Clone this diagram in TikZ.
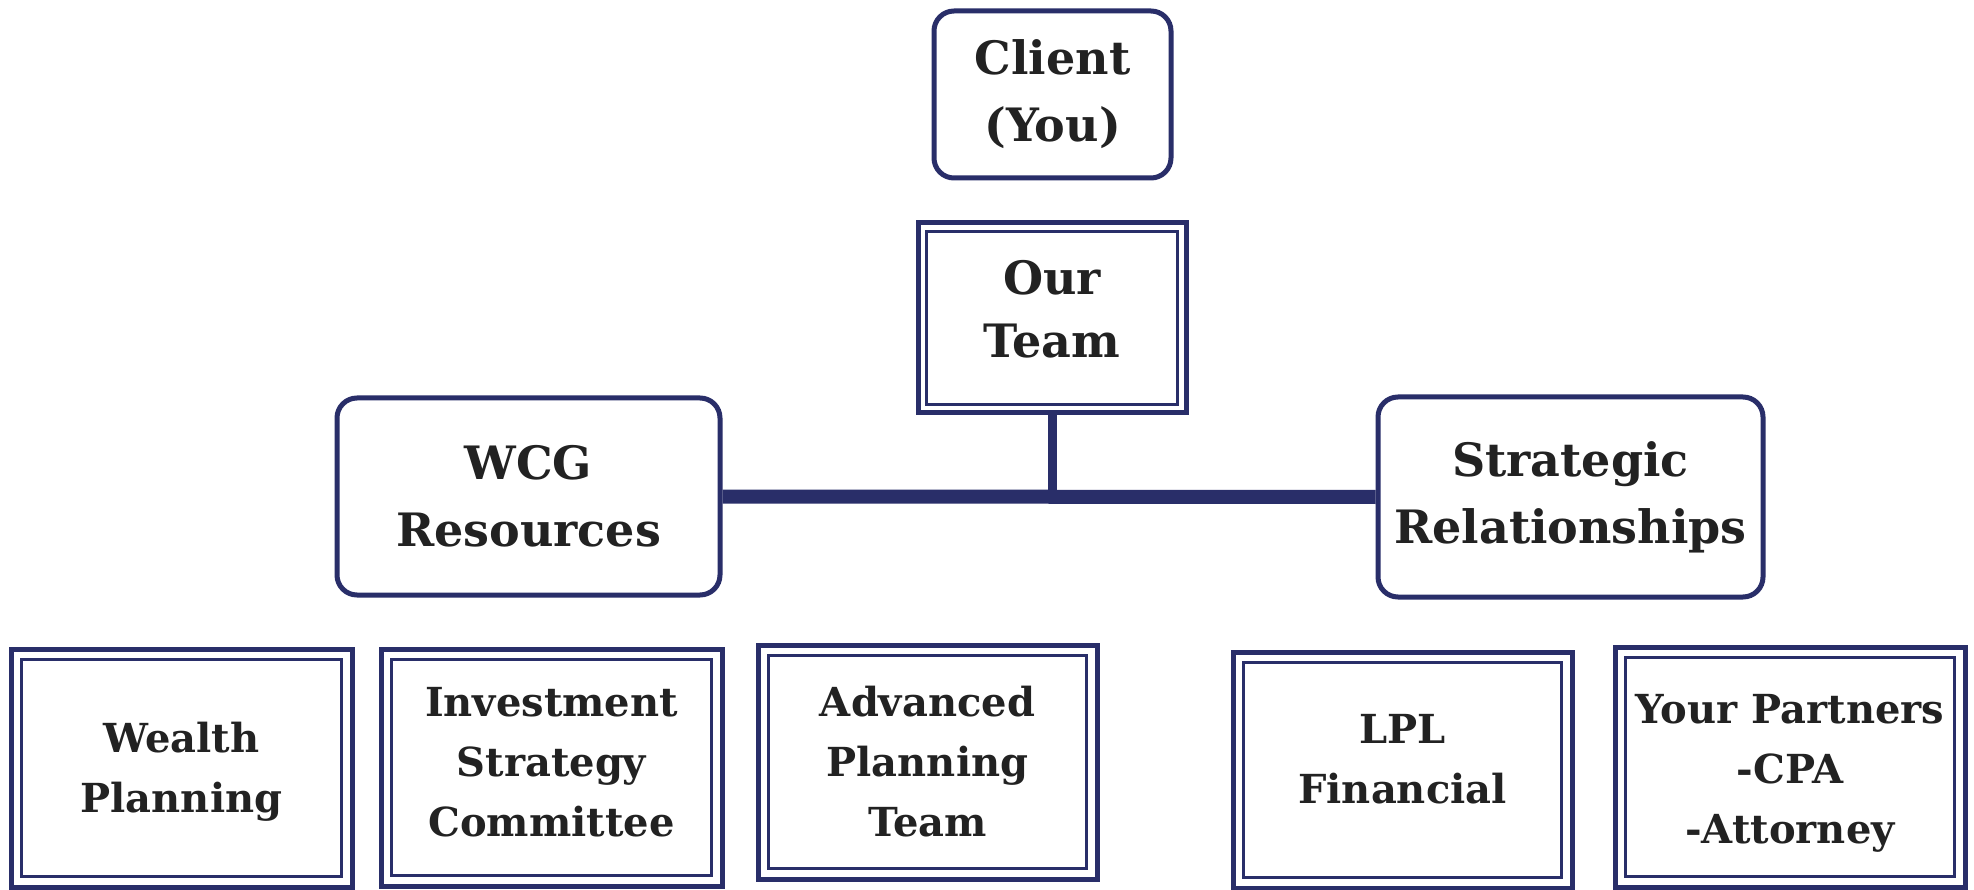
\documentclass[tikz,border=0pt]{standalone}
\usepackage{fontspec}
\setmainfont{DejaVu Serif}
\definecolor{navy}{RGB}{41,46,105}
\definecolor{ink}{RGB}{34,34,34}
\newcommand{\shiftedtext}[2]{\raisebox{#1}[\height][\depth]{\begin{tabular}{@{}c@{}}#2\end{tabular}}}
\begin{document}
\begin{tikzpicture}[x=1pt,y=-1pt,
  bigfont/.style={font=\bfseries\fontsize{46}{67}\selectfont},
  smallfont/.style={font=\bfseries\fontsize{40}{60}\selectfont},
  rbox/.style={draw=navy,line width=5pt,rounded corners=20pt,inner sep=0pt,align=center,text=ink,bigfont},
  dbox/.style={draw=navy,line width=5pt,inner sep=0pt,align=center,text=ink},
  innerline/.style={draw=navy,line width=2.5pt},
  link/.style={draw=navy}]
\useasboundingbox[fill=white] (0,0) rectangle (1974,890);

\node[rbox,minimum width=237pt,minimum height=167pt] (client) at (1052.5,94.5) {Client\\(You)};
\node[dbox,font=\bfseries\fontsize{46}{63}\selectfont,minimum width=268pt,minimum height=190pt] (team) at (1052,318) {\shiftedtext{5pt}{Our\\Team}};
\node[rbox,minimum width=383pt,minimum height=197pt] (wcg) at (528.5,496.5) {WCG\\Resources};
\node[rbox,minimum width=385pt,minimum height=200pt] (sr) at (1570.5,497) {Strategic\\Relationships};

\node[dbox,smallfont,minimum width=341pt,minimum height=238pt] (wp) at (181.5,768) {\shiftedtext{-2.5pt}{Wealth\\Planning}};
\node[dbox,smallfont,minimum width=341pt,minimum height=237pt] (isc) at (551.5,767.5) {\shiftedtext{3pt}{Investment\\Strategy\\Committee}};
\node[dbox,smallfont,minimum width=339pt,minimum height=234pt] (apt) at (927.5,762) {Advanced\\Planning\\Team};
\node[dbox,smallfont,minimum width=339pt,minimum height=236pt] (lpl) at (1402.5,770) {\shiftedtext{9pt}{LPL\\Financial}};
\node[dbox,smallfont,minimum width=350pt,minimum height=240pt] (yp) at (1790,767) {\shiftedtext{-4pt}{Your Partners\\-CPA\\-Attorney}};

\draw[innerline] ([xshift=11pt,yshift=-11pt]team.north west) rectangle ([xshift=-11pt,yshift=11pt]team.south east);
\foreach \n in {wp,isc,apt,lpl,yp}
  \draw[innerline] ([xshift=13pt,yshift=-13pt]\n.north west) rectangle ([xshift=-13pt,yshift=13pt]\n.south east);

\draw[link,line width=14pt] (wcg.east) -- (sr.west);
\draw[link,line width=9pt] (team.south) -- (team.south |- wcg.east);
\end{tikzpicture}
\end{document}
